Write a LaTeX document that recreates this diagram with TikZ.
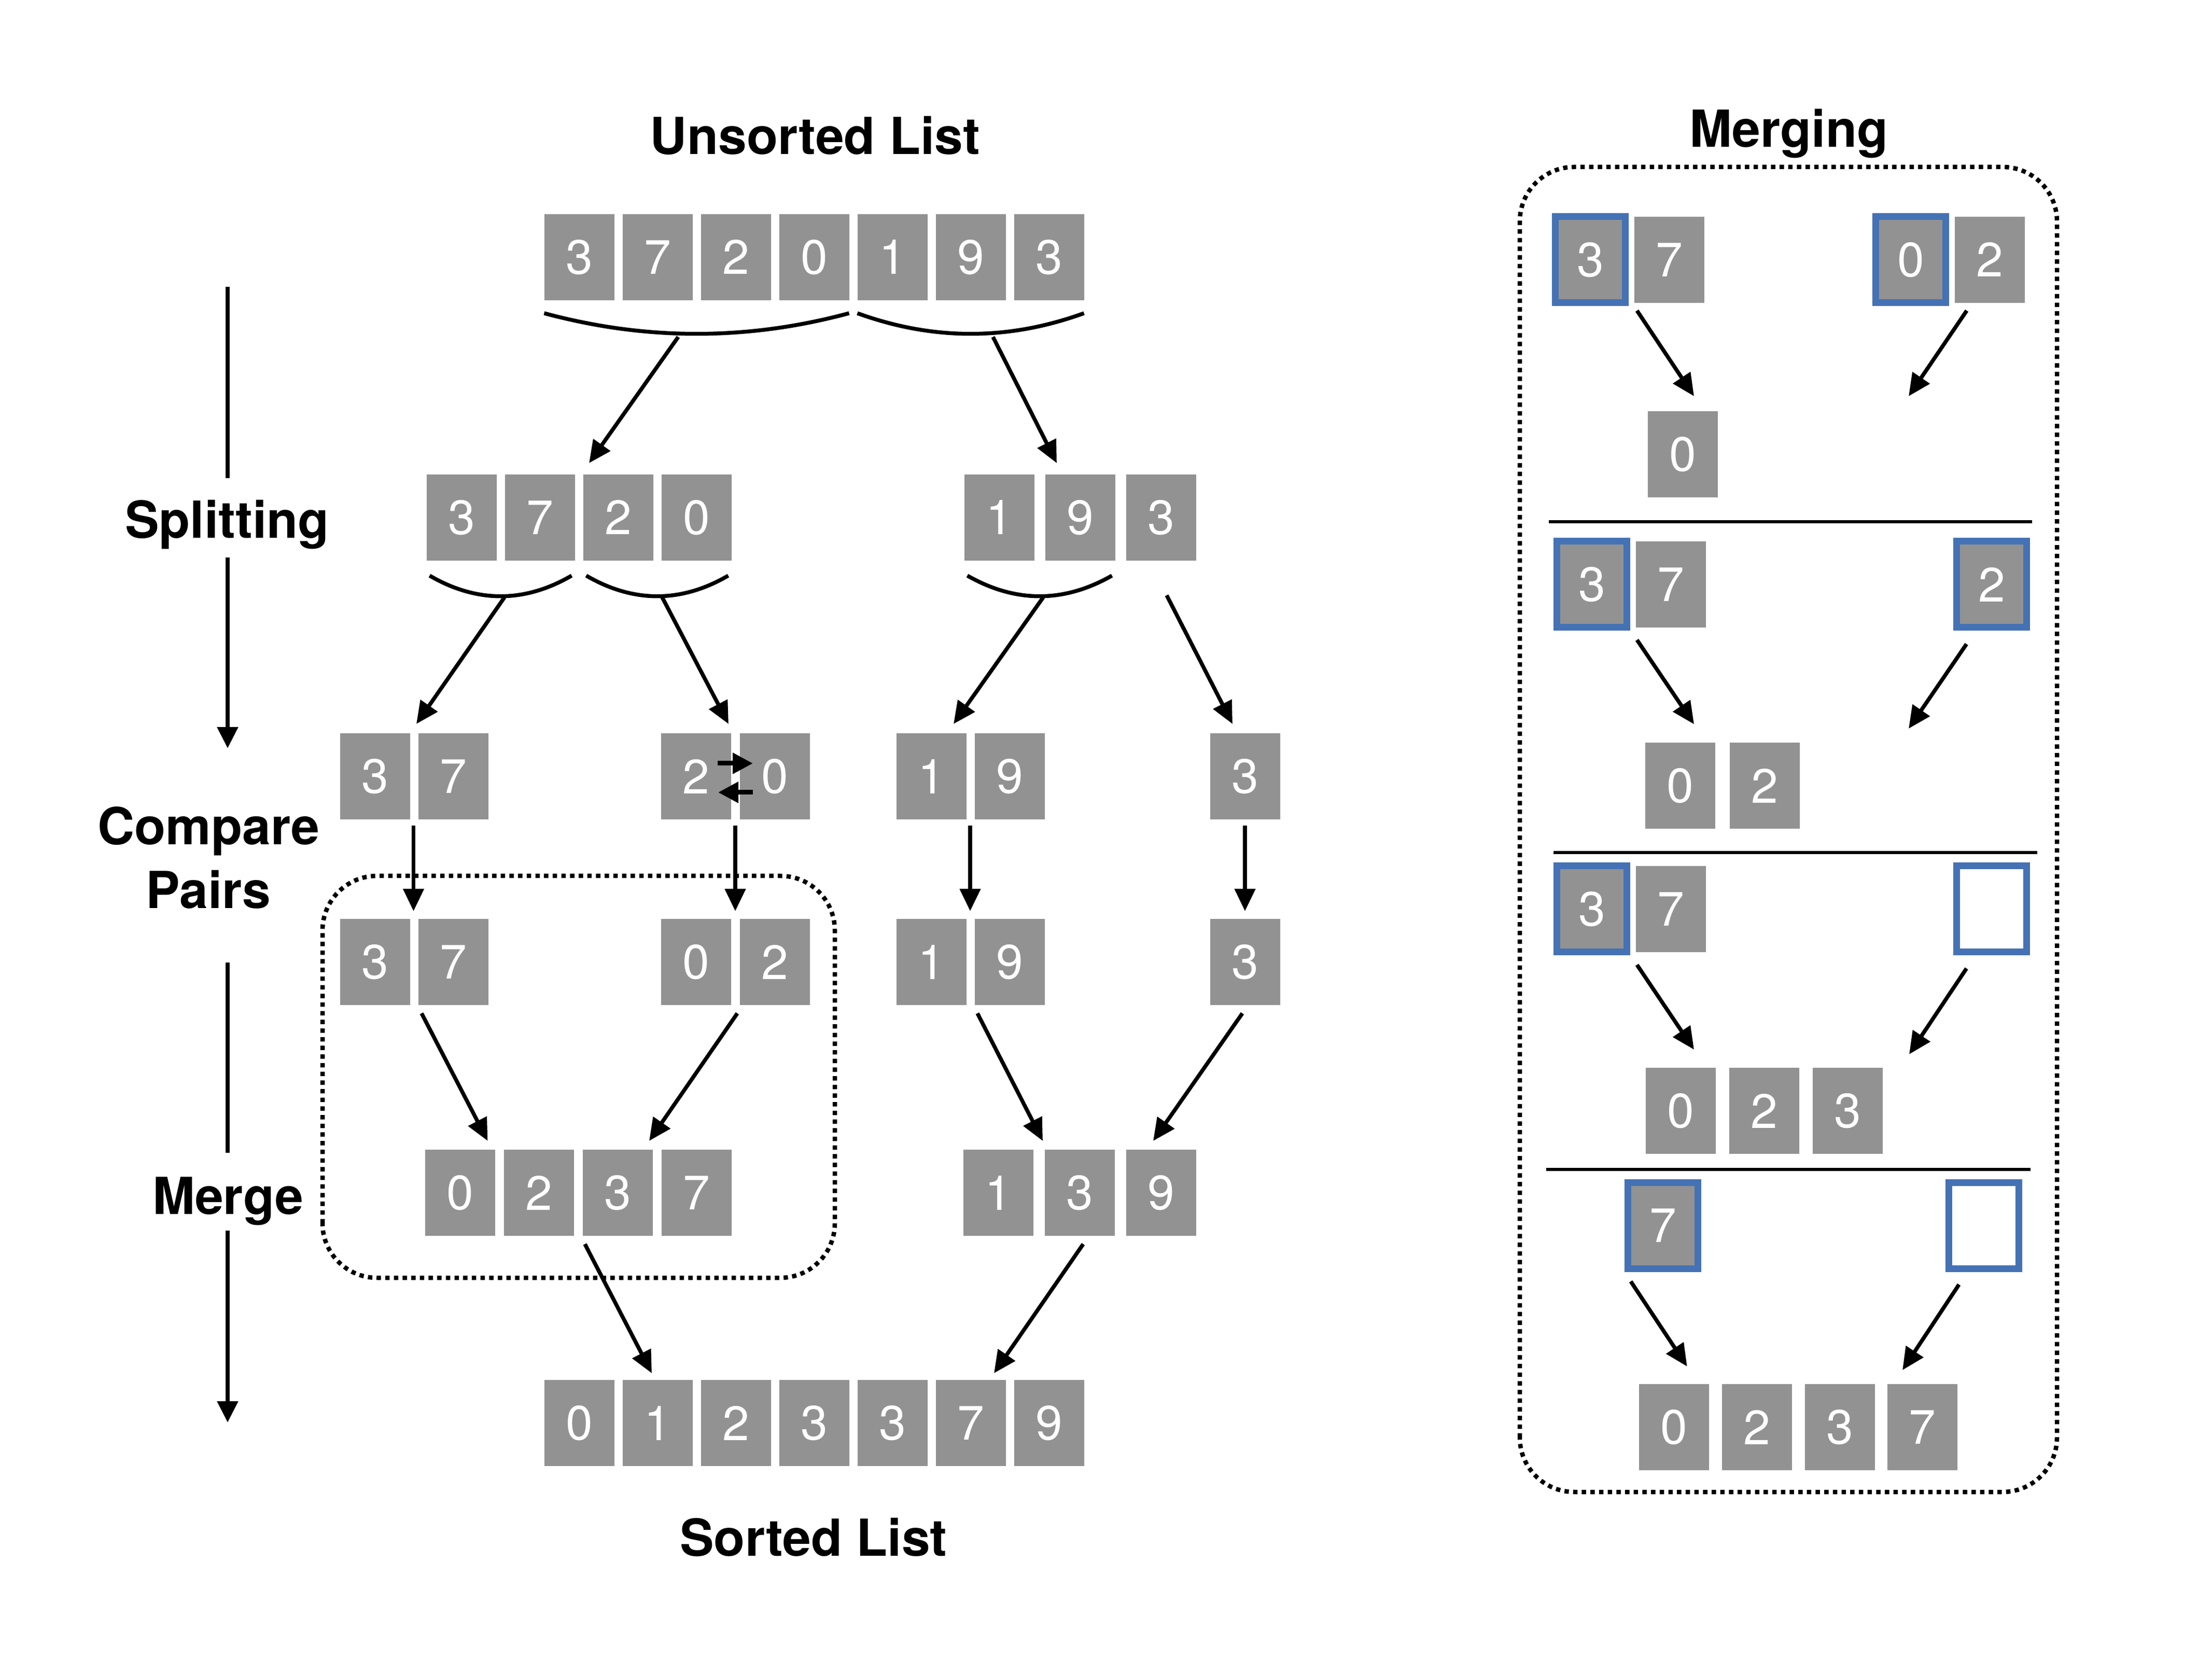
\documentclass[tikz,border=0pt]{standalone}
\usepackage{fontspec}
\setmainfont{TeX Gyre Heros}
\usetikzlibrary{arrows.meta}
\definecolor{boxgray}{RGB}{146,146,146}
\definecolor{pickblue}{RGB}{68,114,180}

\begin{document}
\begin{tikzpicture}[
  cell/.style={rectangle, fill=boxgray, minimum width=1.35cm, minimum height=1.66cm,
    inner sep=0pt, outer sep=0pt, text=white, font=\fontsize{26.5}{30}\selectfont},
  pick/.style={cell, draw=pickblue, line width=0.13cm},
  hole/.style={pick, fill=white},
  lbl/.style={font=\fontsize{28}{35}\selectfont\bfseries, inner sep=0pt},
  arr/.style={line width=0.075cm, -{Triangle[length=0.43cm,width=0.39cm]}},
  swaparr/.style={line width=0.09cm, -{Triangle[length=0.39cm,width=0.39cm]}},
  brace/.style={line width=0.075cm},
  timeline/.style={line width=0.08cm},
  divider/.style={line width=0.06cm},
  dotbox/.style={line width=0.085cm, dash pattern=on 0.085cm off 0.082cm, rounded corners=1.05cm}
]
\useasboundingbox (0,0) rectangle (42.66,32);

% titles and phase labels
\node[lbl, anchor=base] (unsorted) at (15.72,29.02) {Unsorted List};
\node[lbl, anchor=base] (sorted) at (15.69,2.00) {Sorted List};
\node[lbl, anchor=base] (merging) at (34.50,29.16) {Merging};
\node[lbl, anchor=base] (split) at (4.38,21.62) {Splitting};
\node[lbl, anchor=north, align=center] (cmp) at (4.02,16.45) {Compare\\Pairs};
\node[lbl, anchor=base] (merge) at (4.395,8.58) {Merge};

\coordinate (t1) at (4.39,26.47);
\coordinate (t2) at (4.39,22.78);
\coordinate (t3) at (4.39,21.25);
\coordinate (t4) at (4.39,17.57);
\coordinate (t5) at (4.39,13.44);
\coordinate (t6) at (4.39,9.77);
\coordinate (t7) at (4.39,8.27);
\coordinate (t8) at (4.39,4.57);
\draw[timeline] (t1) -- (t2);
\draw[timeline,-{Triangle[length=0.41cm,width=0.39cm]}] (t3) -- (t4);
\draw[timeline] (t5) -- (t6);
\draw[timeline,-{Triangle[length=0.41cm,width=0.39cm]}] (t7) -- (t8);

% splitting
\foreach \v [count=\i] in {3,7,2,0,1,9,3}
  \node[cell] (u\i) at ({9.66+1.51*\i},27.04) {\v};

\foreach \v [count=\i] in {3,7,2,0}
  \node[cell] (sa\i) at ({7.39+1.51*\i},22.02) {\v};
\foreach \v [count=\i] in {1,9,3}
  \node[cell] (sb\i) at ({17.71+1.56*\i},22.02) {\v};

\draw[brace] ([yshift=-2.5mm]u1.south west) .. controls +(1.96,-0.53) and +(-1.96,-0.53) .. ([yshift=-2.5mm]u4.south east) coordinate[pos=.5] (cut1);
\draw[brace] ([yshift=-2.5mm]u5.south west) .. controls +(1.46,-0.53) and +(-1.46,-0.53) .. ([yshift=-2.5mm]u7.south east) coordinate[pos=.5] (cut2);

\draw[arr] ([shift={(-0.355,-0.06)}]cut1) -- ([shift={(0.275,0.22)}]sa2.north east);
\draw[arr] ([shift={(0.43,-0.06)}]cut2) -- ([shift={(0.225,0.22)}]sb2.north west);

\draw[brace] ([shift={(0.06,-0.29)}]sa1.south west) .. controls +(0.91,-0.53) and +(-0.91,-0.53) .. ([shift={(-0.06,-0.29)}]sa2.south east) coordinate[pos=.5] (cut3);
\draw[brace] ([shift={(0.06,-0.29)}]sa3.south west) .. controls +(0.91,-0.53) and +(-0.91,-0.53) .. ([shift={(-0.06,-0.29)}]sa4.south east) coordinate[pos=.5] (cut4);
\draw[brace] ([shift={(0.06,-0.29)}]sb1.south west) .. controls +(0.93,-0.53) and +(-0.93,-0.53) .. ([shift={(-0.06,-0.29)}]sb2.south east) coordinate[pos=.5] (cut5);

% compare pairs
\node[cell] (pa1) at (7.23,17.03) {3};
\node[cell] (pa2) at (8.74,17.03) {7};
\node[cell] (pb1) at (13.42,17.03) {2};
\node[cell] (pb2) at (14.94,17.03) {0};
\node[cell] (pc1) at (17.96,17.03) {1};
\node[cell] (pc2) at (19.47,17.03) {9};
\node[cell] (pd1) at (24.01,17.03) {3};

\draw[arr] ([shift={(0.075,-0.02)}]cut3) -- ([shift={(-0.035,0.18)}]pa2.north west);
\draw[arr] ([shift={(0.095,-0.02)}]cut4) -- ([shift={(-0.045,0.18)}]pb1.north east);
\draw[arr] ([shift={(0.07,-0.02)}]cut5) -- ([shift={(-0.245,0.18)}]pc1.north east);
\draw[arr] ([shift={(0.11,-0.67)}]sb3.south) -- ([shift={(-0.24,0.18)}]pd1.north);

\draw[swaparr] ([shift={(-0.255,0.25)}]pb1.east) -- ([shift={(0.255,0.25)}]pb2.west);
\draw[swaparr] ([shift={(0.255,-0.31)}]pb2.west) -- ([shift={(-0.245,-0.31)}]pb1.east);

\node[cell] (qa1) at (7.23,13.45) {3};
\node[cell] (qa2) at (8.74,13.45) {7};
\node[cell] (qb1) at (13.42,13.45) {0};
\node[cell] (qb2) at (14.94,13.45) {2};
\node[cell] (qc1) at (17.96,13.45) {1};
\node[cell] (qc2) at (19.47,13.45) {9};
\node[cell] (qd1) at (24.01,13.45) {3};

\draw[arr] ([shift={(0.07,-0.12)}]pa1.south east) -- ([shift={(0.07,0.15)}]qa1.north east);
\draw[arr] ([shift={(0.085,-0.12)}]pb1.south east) -- ([shift={(0.085,0.15)}]qb1.north east);
\draw[arr] ([shift={(0.075,-0.12)}]pc1.south east) -- ([shift={(0.075,0.15)}]qc1.north east);
\draw[arr] ([yshift=-1.2mm]pd1.south) -- ([yshift=1.5mm]qd1.north);

% merge
\foreach \v [count=\i] in {0,2,3,7}
  \node[cell] (ma\i) at ({7.35+1.52*\i},9.00) {\v};
\foreach \v [count=\i] in {1,3,9}
  \node[cell] (mb\i) at ({17.68+1.57*\i},9.00) {\v};

\draw[arr] ([shift={(0.225,-0.16)}]qa1.south east) -- ([shift={(-0.14,0.17)}]ma1.north east);
\draw[arr] ([shift={(0.125,-0.16)}]qb1.south east) -- ([shift={(-0.065,0.17)}]ma3.north east);
\draw[arr] ([shift={(0.215,-0.16)}]qc1.south east) -- ([shift={(-0.035,0.17)}]mb2.north west);
\draw[arr] ([shift={(-0.05,-0.16)}]qd1.south) -- ([shift={(-0.15,0.17)}]mb3.north);

\draw[dotbox] (6.22,7.36) rectangle (16.10,15.11);

\foreach \v [count=\i] in {0,1,2,3,3,7,9}
  \node[cell] (o\i) at ({9.66+1.51*\i},4.56) {\v};

\draw[arr] ([shift={(0.215,-0.16)}]ma2.south east) -- ([shift={(-0.11,0.13)}]o2.north);
\draw[arr] ([shift={(0.07,-0.16)}]mb2.south) -- ([shift={(-0.225,0.13)}]o6.north east);

% merging detail
\draw[dotbox] (29.31,3.23) rectangle (39.67,28.78);

\node[pick] (al1) at (30.67,26.99) {3};
\node[cell] (al2) at (32.19,26.99) {7};
\node[pick] (ar1) at (36.85,26.99) {0};
\node[cell] (ar2) at (38.37,26.99) {2};
\node[cell] (ao1) at (32.45,23.24) {0};
\coordinate (aend) at (36.81,24.36);
\draw[arr] ([shift={(0.225,-0.15)}]al1.south east) -- ([shift={(0.22,0.29)}]ao1.north);
\draw[arr] ([shift={(0.235,-0.15)}]ar2.south west) -- (aend);

\draw[divider] (29.87,21.94) -- (39.19,21.94);

\node[pick] (bl1) at (30.70,20.73) {3};
\node[cell] (bl2) at (32.22,20.73) {7};
\node[pick] (br1) at (38.41,20.73) {2};
\node[cell] (bo1) at (32.40,16.85) {0};
\node[cell] (bo2) at (34.03,16.85) {2};
\coordinate (bend) at (36.81,17.95);
\draw[arr] ([shift={(0.195,-0.24)}]bl1.south east) -- ([shift={(0.27,0.355)}]bo1.north);
\draw[arr] ([shift={(0.19,-0.32)}]br1.south west) -- (bend);

\draw[divider] (29.96,15.56) -- (39.29,15.56);

\node[pick] (cl1) at (30.70,14.47) {3};
\node[cell] (cl2) at (32.22,14.47) {7};
\node[hole] (cr1) at (38.41,14.47) {};
\foreach \v [count=\i] in {0,2,3}
  \node[cell] (co\i) at ({30.80+1.61*\i},10.58) {\v};
\coordinate (cend) at (36.82,11.67);
\draw[arr] ([shift={(0.195,-0.245)}]cl1.south east) -- ([shift={(0.26,0.35)}]co1.north);
\draw[arr] ([shift={(0.19,-0.315)}]cr1.south west) -- (cend);

\draw[divider] (29.82,9.45) -- (39.16,9.45);

\node[pick] (dl1) at (32.07,8.37) {7};
\node[hole] (dr1) at (38.26,8.37) {};
\foreach \v [count=\i] in {0,2,3,7}
  \node[cell] (do\i) at ({30.69+1.597*\i},4.48) {\v};
\coordinate (dend) at (36.69,5.58);
\draw[arr] ([shift={(0.055,-0.25)}]dl1.south west) -- ([shift={(0.25,0.34)}]do1.north);
\draw[arr] ([shift={(0.195,-0.31)}]dr1.south west) -- (dend);

\end{tikzpicture}
\end{document}
